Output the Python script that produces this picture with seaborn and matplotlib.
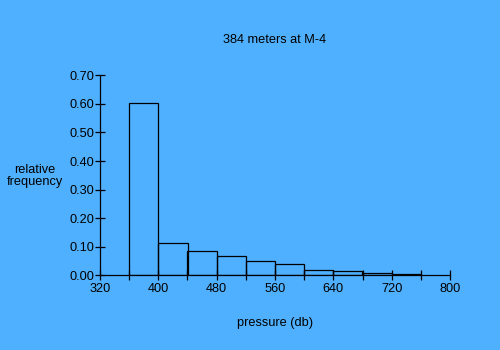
import matplotlib
matplotlib.use("Agg")
import matplotlib.pyplot as plt
import seaborn as sns
import numpy as np

bin_edges = [360, 400, 440, 480, 520, 560, 600, 640, 680, 720, 760]
frequencies = [0.604, 0.112, 0.084, 0.066, 0.049, 0.038, 0.0175, 0.015, 0.008, 0.0035]
x_ticks = [320, 360, 400, 440, 480, 520, 560, 600, 640, 680, 720, 760, 800]
x_labels = ["320", "", "400", "", "480", "", "560", "", "640", "", "720", "", "800"]
y_ticks = [0.0, 0.1, 0.2, 0.3, 0.4, 0.5, 0.6, 0.7]
y_labels = ["0.00", "0.10", "0.20", "0.30", "0.40", "0.50", "0.60", "0.70"]

bin_centers = [(a + b) / 2 for a, b in zip(bin_edges[:-1], bin_edges[1:])]

sns.set_style("white")
plt.rcParams['font.family'] = ['Liberation Sans', 'DejaVu Sans']
plt.rcParams['text.color'] = 'black'

bg = '#4FB0FF'
fs = 9.2
lw = 0.9
fig = plt.figure(figsize=(5, 3.5), dpi=100, facecolor=bg)
ax = fig.add_axes([0.2, 0.2134, 0.7, 0.5715])
ax.set_facecolor(bg)

sns.histplot(x=bin_centers, weights=frequencies, bins=bin_edges, fill=False,
             color='black', edgecolor='black', linewidth=lw, ax=ax)

ax.set_xlim(320, 800)
ax.set_ylim(0, 0.7)
ax.set_xticks(x_ticks)
ax.set_xticklabels(x_labels)
ax.set_yticks(y_ticks)
ax.set_yticklabels(y_labels)

for s in ['top', 'right']:
    ax.spines[s].set_visible(False)
for s in ['left', 'bottom']:
    ax.spines[s].set_color('black')
    ax.spines[s].set_linewidth(lw)

ax.tick_params(axis='both', direction='inout', length=6.5, width=lw, color='black',
               labelsize=fs, labelcolor='black', bottom=True, left=True)
ax.tick_params(axis='x', pad=2)
ax.tick_params(axis='y', pad=1)

ax.set_xlabel("pressure (db)", fontsize=fs, labelpad=16, color='black')
ax.set_ylabel("")
fig.text(0.07, 0.497, "relative\nfrequency", ha='center', va='center', fontsize=fs,
         linespacing=1.0, color='black')
fig.text(0.55, 0.885, "384 meters at M-4", ha='center', va='center', fontsize=fs,
         color='black')

fig.savefig("out.png", dpi=100, facecolor=bg)
